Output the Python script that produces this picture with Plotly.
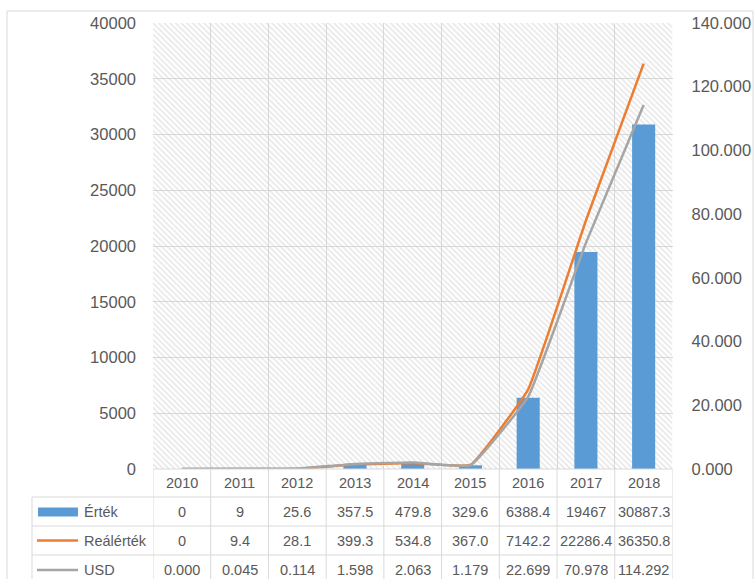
import plotly.graph_objects as go

years = ["2010", "2011", "2012", "2013", "2014", "2015", "2016", "2017", "2018"]
ertek = [0, 9, 25.6, 357.5, 479.8, 329.6, 6388.4, 19467, 30887.3]
realertek = [0, 9.4, 28.1, 399.3, 534.8, 367.0, 7142.2, 22286.4, 36350.8]
usd = [0.000, 0.045, 0.114, 1.598, 2.063, 1.179, 22.699, 70.978, 114.292]
series_names = ["Érték", "Reálérték", "USD"]

Y_MAX = 40000
Y2_MAX = 140

BLUE = "#5B9BD5"
ORANGE = "#ED7D31"
GREY = "#A5A5A5"
GRID = "#D9D9D9"
TXT = "#595959"
FONT = "Liberation Sans"

W, H = 755, 579
def px(x):
    return x / W
def py(y):
    return 1 - y / H

PL, PR, PT, PB = 153, 672.5, 23, 469

fig = go.Figure()

# hatched plot background
fig.add_trace(go.Bar(
    x=years, y=[Y_MAX] * len(years), width=1.0,
    marker=dict(color="rgba(0,0,0,0)", line=dict(width=0),
                pattern=dict(shape="\\", fgcolor="#CFCFCF", bgcolor="rgba(0,0,0,0)",
                             size=4, solidity=0.4, fillmode="overlay")),
    hoverinfo="skip", showlegend=False, xaxis="x", yaxis="y"))

fig.add_trace(go.Bar(x=years, y=ertek, name=series_names[0], width=0.4,
                     marker=dict(color=BLUE, line=dict(width=0)), xaxis="x", yaxis="y"))
fig.add_trace(go.Scatter(x=years, y=realertek, name=series_names[1], mode="lines",
                         line=dict(color=ORANGE, width=2.5, shape="spline", smoothing=0.3),
                         xaxis="x", yaxis="y"))
fig.add_trace(go.Scatter(x=years, y=usd, name=series_names[2], mode="lines",
                         line=dict(color=GREY, width=2.5, shape="spline", smoothing=0.3),
                         xaxis="x", yaxis="y2"))

fig.update_layout(
    width=W, height=H,
    margin=dict(l=0, r=0, t=0, b=0, autoexpand=False),
    paper_bgcolor="white", plot_bgcolor="white",
    barmode="overlay", showlegend=False,
    font=dict(family=FONT, color=TXT, size=16.5),
    xaxis=dict(domain=[px(PL), px(PR)], type="category", range=[-0.5, len(years) - 0.5],
               showticklabels=False, ticks="", showgrid=True, gridcolor=GRID, gridwidth=1,
               tickson="boundaries", zeroline=False, showline=False, automargin=False),
    yaxis=dict(domain=[py(PB), py(PT)], range=[0, Y_MAX], dtick=5000, tickformat="d",
               showgrid=True, gridcolor=GRID, gridwidth=1, zeroline=False, showline=False,
               ticks="", ticklabelstandoff=16, automargin=False),
    yaxis2=dict(overlaying="y", side="right", range=[0, Y2_MAX], dtick=20, tickformat=".3f",
                showgrid=False, zeroline=False, showline=False, ticks="", ticklabelstandoff=18,
                automargin=False),
)

shapes = []
line_style = dict(color=GRID, width=1)
# chart frame
shapes.append(dict(type="line", xref="paper", yref="paper", x0=px(7), x1=px(7), y0=py(11), y1=py(600), line=line_style))
shapes.append(dict(type="line", xref="paper", yref="paper", x0=px(7), x1=px(753), y0=py(11), y1=py(11), line=line_style))
shapes.append(dict(type="line", xref="paper", yref="paper", x0=px(753), x1=px(753), y0=py(11), y1=py(600), line=line_style))

# data table rows
row_lines = [497, 526, 555, 584]
n = len(years)
shapes.append(dict(type="line", xref="x", yref="paper", x0=-0.5, x1=n - 0.5,
                   y0=py(PB), y1=py(PB), line=line_style))
for yb in row_lines:
    shapes.append(dict(type="line", xref="paper", yref="paper", x0=px(32), x1=px(PR),
                       y0=py(yb), y1=py(yb), line=line_style))
shapes.append(dict(type="line", xref="paper", yref="paper", x0=px(32), x1=px(32),
                   y0=py(497), y1=py(590), line=line_style))
for i in range(n + 1):
    shapes.append(dict(type="line", xref="x", yref="paper", x0=i - 0.5, x1=i - 0.5,
                       y0=py(PB), y1=py(590), line=line_style))

# legend keys
shapes.append(dict(type="rect", xref="paper", yref="paper", x0=px(38), x1=px(78),
                   y0=py(516.5), y1=py(507.5), fillcolor=BLUE, line=dict(width=0)))
shapes.append(dict(type="line", xref="paper", yref="paper", x0=px(37), x1=px(78),
                   y0=py(540.5), y1=py(540.5), line=dict(color=ORANGE, width=2.5)))
shapes.append(dict(type="line", xref="paper", yref="paper", x0=px(37), x1=px(78),
                   y0=py(570), y1=py(570), line=dict(color=GREY, width=2.5)))
fig.update_layout(shapes=shapes)

TFS = 14.5
ann = []
row_centers = [483, 512, 540.5, 569.5]
for i, yr in enumerate(years):
    ann.append(dict(x=i, xref="x", y=py(row_centers[0]), yref="paper", text=yr,
                    xanchor="center", yanchor="middle",
                    showarrow=False, font=dict(size=TFS, color=TXT, family=FONT)))

def fmt_ertek(v):
    return f"{v:g}"
def fmt_real(v):
    return "0" if v == 0 else f"{v:.1f}"
def fmt_usd(v):
    return f"{v:.3f}"

rows = [(ertek, fmt_ertek), (realertek, fmt_real), (usd, fmt_usd)]
for r, (vals, f) in enumerate(rows):
    yc = row_centers[r + 1]
    for i, v in enumerate(vals):
        ann.append(dict(x=i, xref="x", y=py(yc), yref="paper", text=f(v),
                        xanchor="center", yanchor="middle",
                        showarrow=False, font=dict(size=TFS, color=TXT, family=FONT)))
    ann.append(dict(x=px(82), xref="paper", y=py(yc), yref="paper", text=series_names[r],
                    xanchor="left", yanchor="middle",
                    showarrow=False, font=dict(size=TFS, color=TXT, family=FONT)))
fig.update_layout(annotations=ann)

fig.write_html("out.html", config={"displayModeBar": False},
               post_script="document.body.style.margin='0';")
